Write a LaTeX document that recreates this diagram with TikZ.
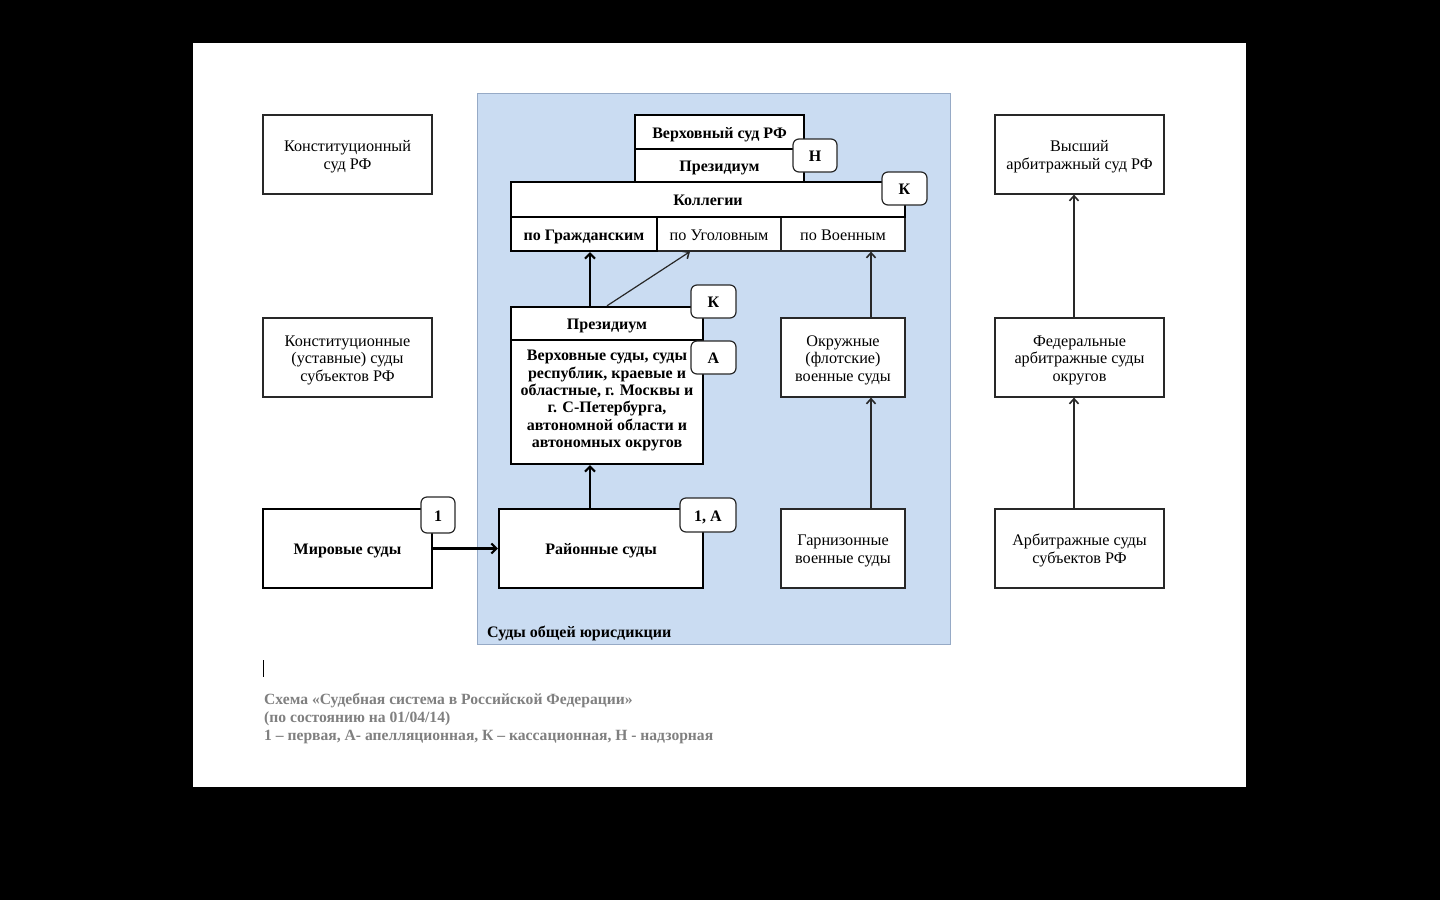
\documentclass[tikz,border=0pt]{standalone}
\usepackage{fontspec}
\setmainfont{Liberation Serif}
\usetikzlibrary{arrows.meta}
\definecolor{panelfill}{RGB}{202,220,242}
\definecolor{paneldraw}{RGB}{150,170,198}
\definecolor{captiongray}{RGB}{128,128,128}
\definecolor{linegray}{RGB}{40,40,40}
\newcommand{\boxfont}{\fontsize{16.2}{17.6}\selectfont}
\newcommand{\boldfont}{\fontsize{16}{17.4}\selectfont\bfseries}
\newcommand{\ts}{\rule{0pt}{16.9pt}}
\newcommand{\bs}{\rule[-4.5pt]{0pt}{0pt}}
\newcommand{\bsup}{\rule[-12.5pt]{0pt}{0pt}}
\tikzset{
  thinbox/.style={draw=linegray, line width=1.2pt, fill=white, align=center, inner sep=0pt, font=\boxfont},
  thickbox/.style={draw=black, line width=2.4pt, fill=white, align=center, inner sep=0pt, font=\boldfont},
  badge/.style={draw=linegray, line width=1.2pt, fill=white, rounded corners=6pt, inner sep=0pt, font=\boldfont},
  thinarr/.style={draw=linegray, line width=1.2pt, -{Straight Barb[length=5pt,width=9pt,line width=1.6pt]}},
  thickarr/.style={draw=black, line width=2.4pt, -{Straight Barb[length=5pt,width=10pt,line width=2pt]}},
}
\begin{document}
\begin{tikzpicture}[x=1pt,y=-1pt]
\fill[black] (0,0) rectangle (1440,900);
\useasboundingbox (0,0) rectangle (1440,900);
\fill[white] (193,43) rectangle (1246,787);
\filldraw[fill=panelfill, draw=paneldraw, line width=1pt] (477,93) rectangle (950,644);
\node[anchor=west, font=\boldfont, inner sep=0pt] (panellabel) at (487,631) {\ts Суды общей юрисдикции\bs};

% left column
\node[thinbox, minimum width=169pt, minimum height=79pt] (ks) at (347.5,154.5) {\ts Конституционный\\суд РФ\bs};
\node[thinbox, minimum width=169pt, minimum height=79pt] (kss) at (347.5,357.5) {\ts Конституционные\\(уставные) суды\\субъектов РФ\bs};
\node[thickbox, minimum width=169pt, minimum height=79pt] (mir) at (347.5,548.5) {\ts Мировые суды\bs};

% general jurisdiction
\node[thickbox, minimum width=204pt, minimum height=79pt] (rayon) at (601,548.5) {\ts Районные суды\bs};
\node[thickbox, minimum width=192pt, minimum height=124pt] (regsup) at (607,402) {\ts Верховные суды, суды\\республик, краевые и\\областные, г. Москвы и\\г. С-Петербурга,\\автономной области и\\автономных округов\bsup};
\node[thickbox, minimum width=192pt, minimum height=33pt] (regpres) at (607,323.5) {\ts Президиум\bs};

\node[thinbox, minimum width=124pt, minimum height=34pt] (ugol) at (719,234) {\ts по Уголовным\bs};
\node[thinbox, minimum width=124pt, minimum height=34pt] (voen) at (843,234) {\ts по Военным\bs};
\node[thickbox, minimum width=146pt, minimum height=34pt] (grazh) at (584,234) {\ts по Гражданским\bs};
\node[thickbox, minimum width=394pt, minimum height=35pt] (koll) at (708,199.5) {\ts Коллегии\bs};
\node[thickbox, minimum width=169pt, minimum height=34pt] (vs) at (719.5,132) {\ts Верховный суд РФ\bs};
\node[thickbox, minimum width=169pt, minimum height=33pt] (vspres) at (719.5,165.5) {\ts Президиум\bs};

\node[thinbox, minimum width=124pt, minimum height=79pt] (okr) at (843,357.5) {\ts Окружные\\(флотские)\\военные суды\bs};
\node[thinbox, minimum width=124pt, minimum height=79pt] (garn) at (843,548.5) {\ts Гарнизонные\\военные суды\bs};

% right column
\node[thinbox, minimum width=169pt, minimum height=79pt] (vas) at (1079.5,154.5) {\ts Высший\\арбитражный суд РФ\bs};
\node[thinbox, minimum width=169pt, minimum height=79pt] (fas) at (1079.5,357.5) {\ts Федеральные\\арбитражные суды\\округов\bs};
\node[thinbox, minimum width=169pt, minimum height=79pt] (as) at (1079.5,548.5) {\ts Арбитражные суды\\субъектов РФ\bs};

% badges
\node[badge, minimum width=34pt, minimum height=36pt] (b1) at (438,515) {\ts 1\bs};
\node[badge, minimum width=56pt, minimum height=34pt] (b1a) at (708,515) {\ts 1, А\bs};
\node[badge, minimum width=45pt, minimum height=33pt] (bk2) at (713.5,301.5) {\ts К\bs};
\node[badge, minimum width=45pt, minimum height=33pt] (ba) at (713.5,357.5) {\ts А\bs};
\node[badge, minimum width=44pt, minimum height=33pt] (bn) at (815,155.5) {\ts Н\bs};
\node[badge, minimum width=45pt, minimum height=33pt] (bk1) at (904.5,188.5) {\ts К\bs};

% connectors
\draw[thickarr] (mir.east) -- (rayon.west);
\draw[thickarr] ([xshift=-11pt]rayon.north) -- ([xshift=-11pt]rayon.north |- regsup.south);
\draw[thickarr] ([xshift=-17pt]regpres.north) -- ([xshift=-17pt]regpres.north |- grazh.south);
\draw[thinarr] (regpres.north) -- ([xshift=-29pt]ugol.south);
\draw[thinarr] ([xshift=28pt]garn.north) -- ([xshift=28pt]garn.north |- okr.south);
\draw[thinarr] ([xshift=28pt]okr.north) -- ([xshift=28pt]okr.north |- voen.south);
\draw[thinarr] ([xshift=-5.5pt]as.north) -- ([xshift=-5.5pt]as.north |- fas.south);
\draw[thinarr] ([xshift=-5.5pt]fas.north) -- ([xshift=-5.5pt]fas.north |- vas.south);

% cursor and caption
\draw[black, line width=1.2pt] (263.5,660) -- (263.5,677);
\node[anchor=north west, align=left, inner sep=0pt, text=captiongray, font=\fontsize{15.6}{18}\selectfont\bfseries] (caption) at (264,693)
  {Схема «Судебная система в Российской Федерации»\\(по состоянию на 01/04/14)\\1 – первая, А- апелляционная, К – кассационная, Н - надзорная};
\end{tikzpicture}
\end{document}
